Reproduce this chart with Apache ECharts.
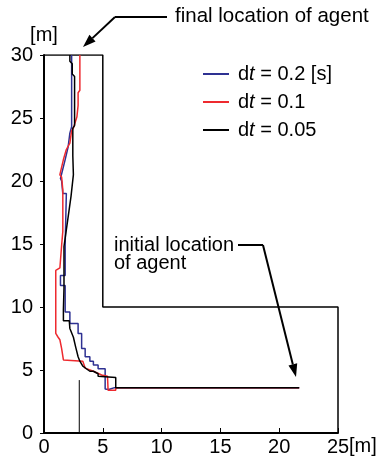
<!DOCTYPE html>
<html><head><meta charset="utf-8">
<script src="https://cdn.jsdelivr.net/npm/echarts@6/dist/echarts.min.js"></script>
<style>html,body{margin:0;padding:0;background:#fff}#c{width:381px;height:460px}</style>
</head><body><div id="c"></div>
<script>
// ---- data ----
const seriesNames = ['dt = 0.2 [s]', 'dt = 0.1', 'dt = 0.05'];
const xTicks = [0, 5, 10, 15, 20, 25];
const yTicks = [0, 5, 10, 15, 20, 25, 30];
const wallOutline = [[0,30],[5,30],[5,10],[25,10],[25,0]];
const doorLine = [[3,0],[3,4.2]];
const traj02 = [[21.7,3.6],[6.0,3.6],[5.5,3.45],[5.2,3.5],[5.2,5.1],[4.6,5.1],[4.6,5.4],[4.2,5.4],[4.2,5.7],[3.9,5.7],[3.9,6.05],[3.5,6.05],[3.5,6.7],[3.2,6.7],[3.2,7.9],[2.9,7.9],[2.9,8.7],[2.2,8.7],[2.2,9.6],[1.8,9.6],[1.8,11.7],[1.4,11.7],[1.4,12.5],[1.8,12.5],[1.8,14.9],[1.9,14.9],[1.9,19.0],[1.6,19.0],[1.5,20.0],[1.4,20.2],[1.8,21.7],[2.05,22.7],[2.2,23.8],[2.35,24.3],[2.35,30]];
const traj01 = [[21.7,3.6],[6.1,3.6],[6.1,3.4],[5.45,3.4],[5.4,4.5],[4.9,4.6],[4.2,4.9],[3.5,5.15],[3.3,5.7],[1.65,5.8],[1.5,5.8],[1.5,6.7],[1.35,6.7],[1.35,7.4],[1.2,7.6],[1.0,7.9],[1.0,12.9],[1.35,13.1],[1.5,14.9],[1.6,16.0],[1.6,19.3],[1.5,20.3],[1.35,20.5],[1.65,21.7],[1.9,22.5],[2.2,23.0],[2.35,24.0],[2.5,24.2],[2.8,25.1],[2.9,26.0],[2.9,27.0],[3.05,27.2],[3.05,30]];
const traj005 = [[21.7,3.6],[6.1,3.6],[6.1,4.4],[4.6,4.5],[4.6,4.7],[4.2,4.9],[3.9,4.9],[3.6,5.1],[3.3,5.3],[3.05,5.7],[2.9,6.05],[2.7,6.8],[2.5,7.6],[2.2,8.3],[2.15,8.9],[1.65,8.9],[1.65,9.8],[1.7,11.5],[1.7,14.8],[2.0,16.8],[2.3,18.8],[2.5,20.5],[2.45,22.0],[2.45,24.2],[2.6,24.4],[2.6,28.3],[2.4,28.5],[2.4,29.3],[2.2,29.5],[2.2,30]];
const colors = ['#2e3192', '#ee2a2f', '#000000'];

const FONT = '"Liberation Sans", Arial, sans-serif';
const chart = echarts.init(document.getElementById('c'), null, {renderer: 'canvas'});

function arrow(x1, y1, x2, y2) {
  const ang = Math.atan2(y2 - y1, x2 - x1);
  const L = 13, W = 4.5;
  const bx = x2 - L * Math.cos(ang), by = y2 - L * Math.sin(ang);
  const px = -Math.sin(ang) * W, py = Math.cos(ang) * W;
  return [
    {type: 'line', shape: {x1: x1, y1: y1, x2: bx, y2: by}, style: {stroke: '#000', lineWidth: 2}},
    {type: 'polygon', shape: {points: [[x2, y2], [bx + px, by + py], [bx - px, by - py]]}, style: {fill: '#000'}}
  ];
}

const graphics = [
  {type: 'text', left: 175, top: 6, style: {text: 'final location of agent', font: '20.5px ' + FONT, fill: '#000'}},
  {type: 'line', shape: {x1: 167, y1: 17, x2: 115, y2: 17}, style: {stroke: '#000', lineWidth: 2}},
  ...arrow(115, 17, 83, 47),
  {type: 'text', left: 114, top: 235, style: {text: 'initial location', font: '20px ' + FONT, fill: '#000'}},
  {type: 'text', left: 114, top: 253, style: {text: 'of agent', font: '20px ' + FONT, fill: '#000'}},
  {type: 'line', shape: {x1: 238, y1: 245, x2: 263, y2: 245}, style: {stroke: '#000', lineWidth: 2}},
  ...arrow(263, 245, 296, 377),
  {type: 'text', left: 349, top: 436, style: {text: '[m]', font: '20px ' + FONT, fill: '#000'}}
];

function lineSeries(name, data, color, width, z) {
  return {name: name, type: 'line', data: data, symbol: 'none', silent: true, z: z,
    lineStyle: {color: color, width: width}, itemStyle: {color: color}};
}

chart.setOption({
  animation: false,
  backgroundColor: '#fff',
  grid: {left: 44, right: 43, top: 55, bottom: 27},
  xAxis: {type: 'value', min: xTicks[0], max: xTicks[xTicks.length - 1], interval: 5,
    axisLine: {show: true, onZero: false, lineStyle: {color: '#000', width: 2}},
    axisTick: {show: true, inside: true, length: 5, lineStyle: {color: '#000', width: 1}},
    axisLabel: {color: '#000', fontSize: 20, fontFamily: FONT, margin: 4},
    splitLine: {show: false}},
  yAxis: {type: 'value', min: yTicks[0], max: yTicks[yTicks.length - 1], interval: 5,
    name: '[m]', nameLocation: 'end', nameGap: 7,
    nameTextStyle: {color: '#000', fontSize: 20, fontFamily: FONT, align: 'center'},
    axisLine: {show: true, onZero: false, lineStyle: {color: '#000', width: 2}},
    axisTick: {show: true, inside: false, length: 4, lineStyle: {color: '#000', width: 1}},
    axisLabel: {color: '#000', fontSize: 20, fontFamily: FONT, margin: 11},
    splitLine: {show: false}},
  legend: {
    data: seriesNames, orient: 'vertical', left: 203, top: 64, itemGap: 8, padding: 0,
    icon: 'rect', itemWidth: 26, itemHeight: 2,
    formatter: function (n) { return '{n|d}{i|t}{n|' + n.slice(2) + '}'; },
    textStyle: {color: '#000', fontSize: 20, fontFamily: FONT, padding: [0, 0, 0, 4],
      rich: {n: {fontSize: 20, fontFamily: FONT, color: '#000'},
             i: {fontSize: 20, fontFamily: FONT, fontStyle: 'italic', color: '#000'}}}
  },
  series: [
    lineSeries('wall', wallOutline, '#000', 1.5, 1),
    lineSeries('door', doorLine, '#000', 1, 1),
    lineSeries(seriesNames[0], traj02, colors[0], 1.5, 3),
    lineSeries(seriesNames[1], traj01, colors[1], 1.5, 4),
    lineSeries(seriesNames[2], traj005, colors[2], 1.5, 5)
  ],
  graphic: graphics
});
</script></body></html>
